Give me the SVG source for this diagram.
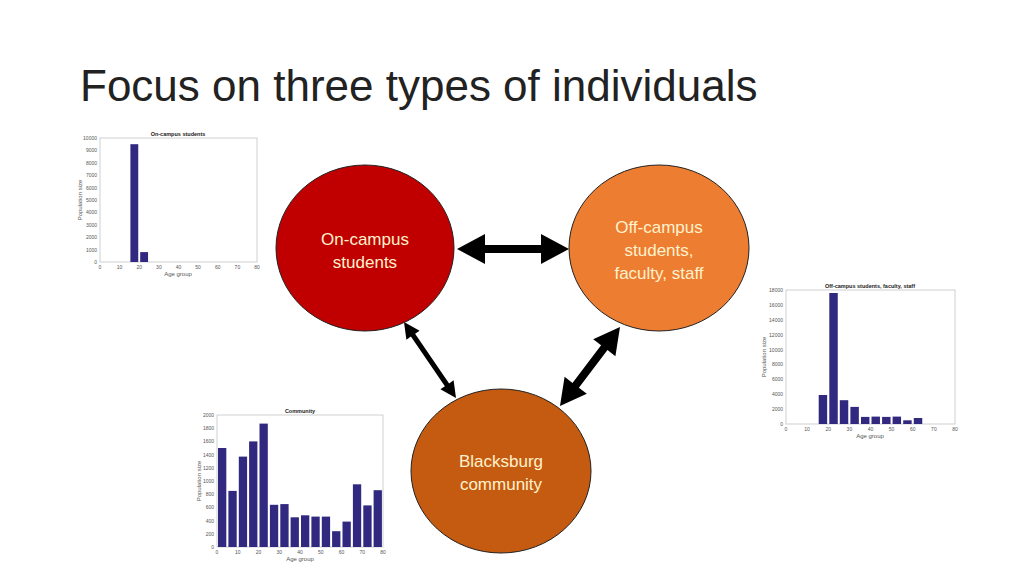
<svg xmlns="http://www.w3.org/2000/svg" width="1024" height="576" viewBox="0 0 1024 576">
<style>
text{font-family:"Liberation Sans",Arial,sans-serif}
.title{font-size:44px;fill:#222}
.node{stroke:#222;stroke-width:1}
.lbl{font-size:17px;fill:#FFF2CC;text-anchor:middle}
.ax{fill:#fff;stroke:#bbb;stroke-width:0.7}
.bar{fill:#31297f}
.t{font-size:5px;fill:#555}
.ty{font-size:5px;fill:#555;text-anchor:end}
.tx{font-size:5px;fill:#555;text-anchor:middle}
.ct{font-size:5.5px;font-weight:bold;fill:#222;text-anchor:middle}
.al{font-size:6px;fill:#555;text-anchor:middle}
.arrow{fill:#000}
</style>
<rect width="1024" height="576" fill="#fff"/>
<text class="title" x="80" y="101">Focus on three types of individuals</text>

<g id="chart-oncampus">
<rect class="ax" x="100" y="138" width="157" height="124"/>
<rect class="bar" x="130.4" y="144.2" width="7.85" height="117.8"/>
<rect class="bar" x="140.2" y="252.1" width="7.85" height="9.9"/>
<text class="ct" x="178" y="136">On-campus students</text>
<text class="ty" x="97" y="264">0</text><text class="ty" x="97" y="251.6">1000</text><text class="ty" x="97" y="239.2">2000</text><text class="ty" x="97" y="226.8">3000</text><text class="ty" x="97" y="214.4">4000</text><text class="ty" x="97" y="202">5000</text><text class="ty" x="97" y="189.6">6000</text><text class="ty" x="97" y="177.2">7000</text><text class="ty" x="97" y="164.8">8000</text><text class="ty" x="97" y="152.4">9000</text><text class="ty" x="97" y="140">10000</text>
<text class="tx" x="100" y="269">0</text><text class="tx" x="119.6" y="269">10</text><text class="tx" x="139.3" y="269">20</text><text class="tx" x="158.9" y="269">30</text><text class="tx" x="178.5" y="269">40</text><text class="tx" x="198.1" y="269">50</text><text class="tx" x="217.8" y="269">60</text><text class="tx" x="237.4" y="269">70</text><text class="tx" x="257" y="269">80</text>
<text class="al" x="178" y="276">Age group</text>
<text class="al" transform="translate(82 200) rotate(-90)">Population size</text>
</g>

<g id="chart-offcampus">
<rect class="ax" x="786" y="290" width="169" height="134"/>
<rect class="bar" x="818.7" y="395.0" width="8.45" height="29.0"/>
<rect class="bar" x="829.3" y="293.0" width="8.45" height="131.0"/>
<rect class="bar" x="839.8" y="400.2" width="8.45" height="23.8"/>
<rect class="bar" x="850.4" y="406.9" width="8.45" height="17.1"/>
<rect class="bar" x="861.0" y="416.9" width="8.45" height="7.1"/>
<rect class="bar" x="871.5" y="416.6" width="8.45" height="7.4"/>
<rect class="bar" x="882.1" y="416.9" width="8.45" height="7.1"/>
<rect class="bar" x="892.6" y="416.6" width="8.45" height="7.4"/>
<rect class="bar" x="903.2" y="420.3" width="8.45" height="3.7"/>
<rect class="bar" x="913.8" y="418.0" width="8.45" height="6.0"/>
<text class="ct" x="870" y="288">Off-campus students, faculty, staff</text>
<text class="ty" x="783" y="426">0</text><text class="ty" x="783" y="411.1">2000</text><text class="ty" x="783" y="396.2">4000</text><text class="ty" x="783" y="381.3">6000</text><text class="ty" x="783" y="366.4">8000</text><text class="ty" x="783" y="351.6">10000</text><text class="ty" x="783" y="336.7">12000</text><text class="ty" x="783" y="321.8">14000</text><text class="ty" x="783" y="306.9">16000</text><text class="ty" x="783" y="292">18000</text>
<text class="tx" x="786" y="431">0</text><text class="tx" x="807.1" y="431">10</text><text class="tx" x="828.3" y="431">20</text><text class="tx" x="849.4" y="431">30</text><text class="tx" x="870.5" y="431">40</text><text class="tx" x="891.6" y="431">50</text><text class="tx" x="912.8" y="431">60</text><text class="tx" x="933.9" y="431">70</text><text class="tx" x="955" y="431">80</text>
<text class="al" x="870" y="438">Age group</text>
<text class="al" transform="translate(766 357) rotate(-90)">Population size</text>
</g>

<g id="chart-community">
<rect class="ax" x="217" y="415" width="166" height="132"/>
<rect class="bar" x="218.0" y="448.0" width="8.3" height="99.0"/>
<rect class="bar" x="228.4" y="490.9" width="8.3" height="56.1"/>
<rect class="bar" x="238.8" y="456.6" width="8.3" height="90.4"/>
<rect class="bar" x="249.1" y="441.4" width="8.3" height="105.6"/>
<rect class="bar" x="259.5" y="423.6" width="8.3" height="123.4"/>
<rect class="bar" x="269.9" y="504.8" width="8.3" height="42.2"/>
<rect class="bar" x="280.3" y="504.1" width="8.3" height="42.9"/>
<rect class="bar" x="290.6" y="517.3" width="8.3" height="29.7"/>
<rect class="bar" x="301.0" y="515.3" width="8.3" height="31.7"/>
<rect class="bar" x="311.4" y="516.6" width="8.3" height="30.4"/>
<rect class="bar" x="321.8" y="516.6" width="8.3" height="30.4"/>
<rect class="bar" x="332.1" y="531.2" width="8.3" height="15.8"/>
<rect class="bar" x="342.5" y="521.6" width="8.3" height="25.4"/>
<rect class="bar" x="352.9" y="484.3" width="8.3" height="62.7"/>
<rect class="bar" x="363.3" y="505.4" width="8.3" height="41.6"/>
<rect class="bar" x="373.6" y="490.2" width="8.3" height="56.8"/>
<text class="ct" x="300" y="413">Community</text>
<text class="ty" x="214" y="549">0</text><text class="ty" x="214" y="535.8">200</text><text class="ty" x="214" y="522.6">400</text><text class="ty" x="214" y="509.4">600</text><text class="ty" x="214" y="496.2">800</text><text class="ty" x="214" y="483">1000</text><text class="ty" x="214" y="469.8">1200</text><text class="ty" x="214" y="456.6">1400</text><text class="ty" x="214" y="443.4">1600</text><text class="ty" x="214" y="430.2">1800</text><text class="ty" x="214" y="417">2000</text>
<text class="tx" x="217" y="554">0</text><text class="tx" x="237.8" y="554">10</text><text class="tx" x="258.5" y="554">20</text><text class="tx" x="279.3" y="554">30</text><text class="tx" x="300" y="554">40</text><text class="tx" x="320.8" y="554">50</text><text class="tx" x="341.5" y="554">60</text><text class="tx" x="362.3" y="554">70</text><text class="tx" x="383" y="554">80</text>
<text class="al" x="300" y="561">Age group</text>
<text class="al" transform="translate(201 481) rotate(-90)">Population size</text>
</g>

<g id="connectors">
<polygon class="arrow" points="457,249 485,234 485,245 541,245 541,234 569,249 541,264 541,253 485,253 485,264"/>
<polygon class="arrow" points="404,322 406.4,339.7 410.9,336.6 444.9,386.2 440.4,389.3 456,398 453.6,380.3 449.1,383.4 415.1,333.8 419.6,330.7"/>
<polygon class="arrow" points="620,327 593.2,339.2 601.1,345.3 572.5,382.9 564.6,376.8 560,406 586.8,393.8 578.9,387.7 607.5,350.1 615.4,356.2"/>
</g>

<g id="node-oncampus">
<ellipse class="node" cx="365" cy="248" rx="89" ry="83" fill="#C00000"/>
<text class="lbl" x="365" y="245">On-campus</text>
<text class="lbl" x="365" y="268">students</text>
</g>
<g id="node-offcampus">
<ellipse class="node" cx="659" cy="248" rx="90" ry="83" fill="#ED7D31"/>
<text class="lbl" x="659" y="233">Off-campus</text>
<text class="lbl" x="659" y="256">students,</text>
<text class="lbl" x="659" y="279">faculty, staff</text>
</g>
<g id="node-community">
<ellipse class="node" cx="501" cy="471" rx="90" ry="82" fill="#C55A11"/>
<text class="lbl" x="501" y="467">Blacksburg</text>
<text class="lbl" x="501" y="490">community</text>
</g>
</svg>
